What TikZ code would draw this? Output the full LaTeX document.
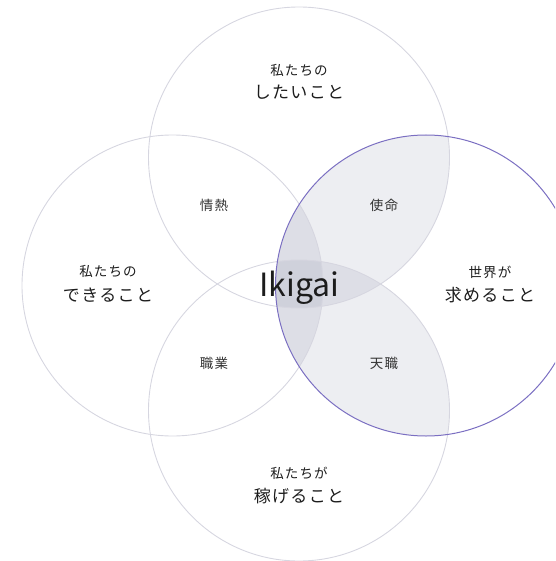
\documentclass[tikz,border=0pt]{standalone}
\usepackage{fontspec}
\setmainfont{Noto Sans CJK JP}
\newfontfamily\jpfont[LetterSpace=8]{Noto Sans CJK JP}
\newfontfamily\latinfont{Noto Sans CJK JP}
\definecolor{ringgray}{HTML}{D6D6E0}
\definecolor{ringpurple}{HTML}{7B6FC2}
\definecolor{shade}{HTML}{6B7090}
\definecolor{ink}{HTML}{1C1C1C}
\begin{document}
\begin{tikzpicture}[x=1pt,y=-1pt,
  ring/.style={draw=ringgray,line width=0.9pt},
  purplering/.style={draw=ringpurple,line width=1pt},
  layer/.style={fill=shade,fill opacity=0.12},
  small/.style={font=\jpfont\fontsize{13.5}{16}\selectfont,text=ink,inner sep=0pt,text height=0.88em,text depth=0.12em},
  big/.style={font=\jpfont\fontsize{17}{20}\selectfont,text=ink,inner sep=0pt,text height=0.88em,text depth=0.12em},
  inner/.style={font=\jpfont\fontsize{13.5}{16}\selectfont,text=ink!90,inner sep=0pt,text height=0.88em,text depth=0.12em}]
\useasboundingbox (0,0) rectangle (555,561);
\clip (0,0) rectangle (555,561);
\coordinate (ctop) at (299,157.5);
\coordinate (cbottom) at (299,410.5);
\coordinate (cleft) at (172.5,285.5);
\coordinate (cright) at (426,285.5);
% shaded overlaps within the right circle
\begin{scope}
  \clip (cright) circle (150.5pt);
  \fill[layer] (ctop) circle (150.5pt);
  \fill[layer] (cbottom) circle (150.5pt);
  \fill[layer] (cleft) circle (150.5pt);
\end{scope}
% outlines
\draw[ring] (ctop) circle (150.5pt);
\draw[ring] (cleft) circle (150.5pt);
\draw[ring] (cbottom) circle (150.5pt);
\draw[purplering] (cright) circle (150.5pt);
% labels
\node[small] (t1) at (299,72) {私たちの};
\node[big] (t2) at (299,95) {したいこと};
\node[small] (l1) at (108,273) {私たちの};
\node[big] (l2) at (108,298) {できること};
\node[small] (r1) at (490,273.5) {世界が};
\node[big] (r2) at (490,298) {求めること};
\node[small] (b1) at (299,475) {私たちが};
\node[big] (b2) at (299,499) {稼げること};
\node[inner] (passion) at (214,207) {情熱};
\node[inner] (mission) at (384,207) {使命};
\node[inner] (profession) at (214,365) {職業};
\node[inner] (vocation) at (384,365) {天職};
\node[font=\latinfont\fontsize{32}{36}\selectfont,text=ink,inner sep=0pt,anchor=base] (ikigai) at (299.5,296.5) {Ikigai};
\end{tikzpicture}
\end{document}
